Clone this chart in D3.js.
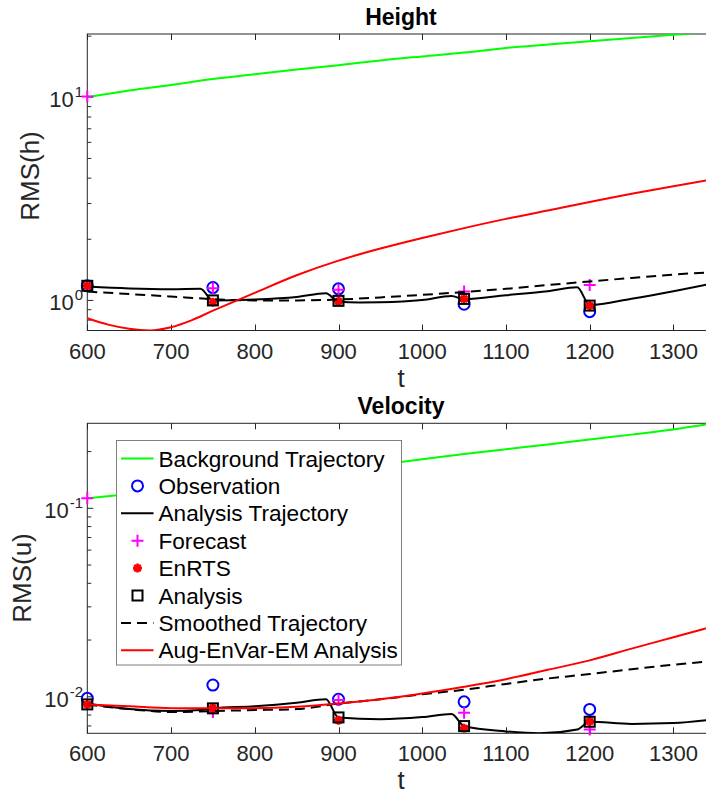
<!DOCTYPE html>
<html>
<head>
<meta charset="utf-8">
<script src="https://cdn.jsdelivr.net/npm/d3@7"></script>
<style>
  body { margin: 0; background: #fff; }
  svg { display: block; font-family: "Liberation Sans", Arial, Helvetica, sans-serif; }
</style>
</head>
<body>
<script>
// values

var tGrid = [600, 650, 700, 750, 800, 850, 900, 950, 1000, 1050, 1100, 1150, 1200, 1250, 1300, 1350];
var assimT = [600, 750, 900, 1050, 1200];
var xTicks = [600, 700, 800, 900, 1000, 1100, 1200, 1300];

// Height panel
var hBackground = [10.0, 10.8, 11.5, 12.3, 13.0, 13.7, 14.4, 15.2, 15.9, 16.6, 17.5, 18.2, 18.9, 19.6, 20.3, 21.0];
var hSmoothed = [1.105, 1.075, 1.045, 1.015, 1.0, 1.0, 1.01, 1.035, 1.065, 1.10, 1.14, 1.19, 1.24, 1.29, 1.34, 1.38];
var hAugT = [600, 625, 650, 675, 700, 725, 750, 800, 850, 900, 950, 1000, 1050, 1100, 1150, 1200, 1250, 1300, 1350];
var hAug = [0.817, 0.76, 0.725, 0.712, 0.738, 0.80, 0.89, 1.09, 1.33, 1.57, 1.80, 2.03, 2.27, 2.52, 2.77, 3.05, 3.35, 3.65, 3.97];
var hTrajT = [600, 650, 700, 735, 750, 800, 850, 885, 900, 925, 950, 1000, 1035, 1050, 1100, 1150, 1185, 1200, 1250, 1300, 1350];
var hTraj = [1.17, 1.145, 1.135, 1.14, 1.0, 1.01, 1.04, 1.085, 0.985, 0.978, 0.98, 1.005, 1.05, 1.014, 1.06, 1.11, 1.16, 0.95, 1.02, 1.11, 1.22];
var hObs = [1.18, 1.157, 1.14, 0.958, 0.88];
var hForecast = [10.1, 1.148, 1.127, 1.105, 1.19];
var hEnRTS = [1.18, 0.98, 0.99, 1.017, 0.943];
var hAnalysis = [1.18, 1.0, 0.995, 1.017, 0.943];

// Velocity panel
var uBackground = [0.113, 0.119, 0.126, 0.133, 0.141, 0.150, 0.160, 0.171, 0.182, 0.194, 0.206, 0.218, 0.232, 0.246, 0.262, 0.283];
var uSmoothed = [0.0091, 0.0086, 0.0083, 0.0084, 0.0085, 0.0086, 0.0092, 0.0097, 0.0103, 0.0109, 0.0117, 0.0125, 0.0132, 0.0140, 0.0148, 0.0155];
var uAug = [0.0091, 0.0089, 0.0087, 0.00868, 0.0087, 0.00885, 0.0092, 0.0097, 0.0104, 0.0113, 0.0124, 0.0139, 0.0156, 0.0180, 0.0207, 0.0238];
var uTrajT = [600, 650, 700, 735, 750, 800, 850, 885, 900, 950, 1000, 1035, 1050, 1100, 1140, 1185, 1200, 1250, 1300, 1350];
var uTraj = [0.0092, 0.0086, 0.0084, 0.0085, 0.00868, 0.0089, 0.0093, 0.0097, 0.00777, 0.0076, 0.0078, 0.0081, 0.0070, 0.00655, 0.0064, 0.0067, 0.00737, 0.00718, 0.00725, 0.0076];
var uObs = [0.00981, 0.01154, 0.0097, 0.0094, 0.00857];
var uForecast = [0.113, 0.0083, 0.0096, 0.00823, 0.00671];
var uEnRTS = [0.0091, 0.0087, 0.0075, 0.0068, 0.0074];
var uAnalysis = [0.00911, 0.00868, 0.00777, 0.00699, 0.00737];

var legendLabels = ['Background Trajectory', 'Observation', 'Analysis Trajectory', 'Forecast',
                    'EnRTS', 'Analysis', 'Smoothed Trajectory', 'Aug-EnVar-EM Analysis'];

//-------------

var width = 706;
var height = 796;
var axisColor = '#262626';

var svg = d3.select('body').append('svg')
    .attr('width', width)
    .attr('height', height);

svg.append('rect').attr('width', width).attr('height', height).attr('fill', '#fff');

var x = d3.scaleLinear().domain([600, 1350]).range([87.3, 715.3]);

function zip(ts, vs) {
    return ts.map(function(t, i) { return [t, vs[i]]; });
}

function drawPanel(opt) {
    var y = d3.scaleLog().domain(opt.ydomain).range([opt.bottom, opt.top]);
    var g = svg.append('g');
    var clipId = 'clip-' + opt.name;

    g.append('clipPath').attr('id', clipId)
      .append('rect')
        .attr('x', x.range()[0]).attr('y', opt.top)
        .attr('width', x.range()[1] - x.range()[0])
        .attr('height', opt.bottom - opt.top);

    var line = d3.line()
        .x(function(d) { return x(d[0]); })
        .y(function(d) { return y(d[1]); })
        .curve(d3.curveMonotoneX);

    function path(data, color, dash) {
        g.append('path')
            .attr('clip-path', 'url(#' + clipId + ')')
            .attr('d', line(data))
            .attr('fill', 'none')
            .attr('stroke', color)
            .attr('stroke-width', 2)
            .attr('stroke-dasharray', dash || null);
    }

    function markers(vals, kind) {
        vals.forEach(function(v, i) {
            drawMarker(g, kind, x(assimT[i]), y(v));
        });
    }

    // frame
    g.append('rect')
        .attr('x', x.range()[0]).attr('y', opt.top)
        .attr('width', x.range()[1] - x.range()[0])
        .attr('height', opt.bottom - opt.top)
        .attr('fill', 'none').attr('stroke', axisColor).attr('stroke-width', 1);

    // x ticks (bottom and top, pointing in)
    xTicks.forEach(function(t) {
        var px = Math.round(x(t)) + 0.5;
        g.append('line').attr('x1', px).attr('x2', px)
            .attr('y1', opt.bottom).attr('y2', opt.bottom - 6)
            .attr('stroke', axisColor);
        g.append('line').attr('x1', px).attr('x2', px)
            .attr('y1', opt.top).attr('y2', opt.top + 6)
            .attr('stroke', axisColor);
        g.append('text')
            .attr('x', x(t)).attr('y', opt.bottom + 28)
            .attr('text-anchor', 'middle')
            .attr('font-size', 22)
            .attr('fill', axisColor)
            .text(t);
    });

    // y ticks (log)
    var lo = opt.ydomain[0], hi = opt.ydomain[1];
    y.ticks().filter(function(v) { return v >= lo && v <= hi; }).forEach(function(v) {
        var e = Math.round(Math.log10(v));
        var major = Math.abs(Math.log10(v) - e) < 1e-9;
        var py = y(v);
        g.append('line').attr('x1', x.range()[0]).attr('x2', x.range()[0] + (major ? 6 : 4))
            .attr('y1', py).attr('y2', py)
            .attr('stroke', axisColor);
        if (major) {
            var txt = g.append('text')
                .attr('x', 83).attr('y', py + 10)
                .attr('text-anchor', 'end')
                .attr('fill', axisColor);
            txt.append('tspan').attr('font-size', 22).text('10');
            txt.append('tspan').attr('font-size', 15).attr('dx', 1).attr('dy', -10)
                .text(e < 0 ? '-' + Math.abs(e) : e);
        }
    });

    // series, in plotting order
    path(zip(tGrid, opt.background), '#00ff00');
    markers(opt.obs, 'circle');
    path(zip(opt.trajT, opt.traj), '#000000');
    markers(opt.forecast, 'plus');
    markers(opt.enrts, 'star');
    markers(opt.analysis, 'square');
    path(zip(tGrid, opt.smoothed), '#000000', '10,6');
    path(zip(opt.augT, opt.aug), '#ff0000');

    // title and labels
    svg.append('text')
        .attr('x', 401).attr('y', opt.top - 9)
        .attr('text-anchor', 'middle')
        .attr('font-size', 23).attr('font-weight', 'bold')
        .text(opt.title);

    svg.append('text')
        .attr('x', 401).attr('y', opt.bottom + 56)
        .attr('text-anchor', 'middle')
        .attr('font-size', 26)
        .attr('fill', axisColor)
        .text('t');

    svg.append('text')
        .attr('transform', 'translate(' + opt.ylabelX + ',' + opt.ylabelY + ') rotate(-90)')
        .attr('text-anchor', 'middle')
        .attr('font-size', 26)
        .attr('fill', axisColor)
        .text(opt.ylabel);

    return g;
}

function drawMarker(g, kind, cx, cy) {
    if (kind === 'circle') {
        g.append('circle').attr('cx', cx).attr('cy', cy).attr('r', 5.5)
            .attr('fill', 'none').attr('stroke', '#0000ff').attr('stroke-width', 2);
    } else if (kind === 'plus') {
        g.append('path')
            .attr('d', 'M' + (cx - 6) + ',' + cy + 'H' + (cx + 6) + 'M' + cx + ',' + (cy - 6) + 'V' + (cy + 6))
            .attr('stroke', '#ff00ff').attr('stroke-width', 2).attr('fill', 'none');
    } else if (kind === 'star') {
        var r = 4.5, k = r * 0.7071;
        g.append('path')
            .attr('d', 'M' + (cx - r) + ',' + cy + 'H' + (cx + r) +
                       'M' + cx + ',' + (cy - r) + 'V' + (cy + r) +
                       'M' + (cx - k) + ',' + (cy - k) + 'L' + (cx + k) + ',' + (cy + k) +
                       'M' + (cx - k) + ',' + (cy + k) + 'L' + (cx + k) + ',' + (cy - k))
            .attr('stroke', '#ff0000').attr('stroke-width', 2.6).attr('fill', 'none');
    } else if (kind === 'square') {
        g.append('rect').attr('x', cx - 5).attr('y', cy - 5).attr('width', 10).attr('height', 10)
            .attr('fill', 'none').attr('stroke', '#000').attr('stroke-width', 2);
    }
}

drawPanel({
    name: 'h', title: 'Height', ylabel: 'RMS(h)', ylabelX: 39, ylabelY: 176,
    top: 34, bottom: 330.5, ydomain: [0.711, 20.5],
    background: hBackground, obs: hObs, trajT: hTrajT, traj: hTraj,
    forecast: hForecast, enrts: hEnRTS, analysis: hAnalysis,
    smoothed: hSmoothed, augT: hAugT, aug: hAug
});

drawPanel({
    name: 'u', title: 'Velocity', ylabel: 'RMS(u)', ylabelX: 31, ylabelY: 578,
    top: 423.3, bottom: 733.3, ydomain: [0.0064, 0.2825],
    background: uBackground, obs: uObs, trajT: uTrajT, traj: uTraj,
    forecast: uForecast, enrts: uEnRTS, analysis: uAnalysis,
    smoothed: uSmoothed, augT: tGrid, aug: uAug
});

// legend
var legend = svg.append('g');
legend.append('rect')
    .attr('x', 116.5).attr('y', 440.5).attr('width', 285).attr('height', 224.5)
    .attr('fill', '#fff').attr('stroke', '#7f7f7f').attr('stroke-width', 1);

var legendKinds = [
    { line: '#00ff00' }, { marker: 'circle' }, { line: '#000000' }, { marker: 'plus' },
    { marker: 'star' }, { marker: 'square' }, { line: '#000000', dash: '10,6' }, { line: '#ff0000' }
];

legendLabels.forEach(function(label, i) {
    var cy = 458.5 + i * 27.4;
    var k = legendKinds[i];
    if (k.line) {
        legend.append('line')
            .attr('x1', 121).attr('x2', 153.5).attr('y1', cy).attr('y2', cy)
            .attr('stroke', k.line).attr('stroke-width', 2)
            .attr('stroke-dasharray', k.dash || null);
    } else {
        drawMarker(legend, k.marker, 137.5, cy);
    }
    legend.append('text')
        .attr('x', 158.5).attr('y', cy + 8)
        .attr('font-size', 22.6)
        .attr('fill', '#000')
        .text(label);
});
</script>
</body>
</html>
